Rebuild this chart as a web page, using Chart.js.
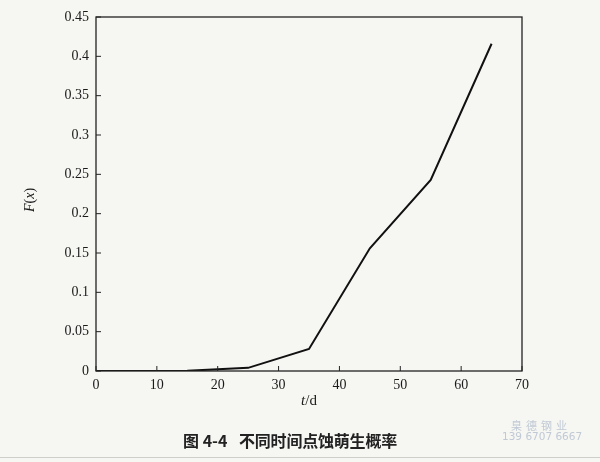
<!DOCTYPE html>
<html>
<head>
<meta charset="utf-8">
<script src="https://cdn.jsdelivr.net/npm/chart.js@4.4.0/dist/chart.umd.min.js"></script>
<style>
  html, body { margin:0; padding:0; background:#f6f6f3; }
  #wrap { position:relative; width:600px; height:462px; overflow:hidden; }
  canvas { position:absolute; left:0; top:0; }
  .cap { position:absolute; top:430px; font-family:"Noto Sans CJK SC", sans-serif; font-weight:bold; font-size:16px; line-height:20px; color:#222; white-space:nowrap; }
  #cap1 { left:183px; }
  #cap2 { left:239px; letter-spacing:-0.2px; }
  #wm1 { position:absolute; left:511px; top:417px; font-family:"Noto Sans CJK SC", sans-serif; font-size:11px; color:#c0c9d4; letter-spacing:4px; }
  #wm2 { position:absolute; left:502px; top:430px; font-family:"DejaVu Sans", sans-serif; font-size:10.5px; color:#c0c9d4; white-space:nowrap; }
  #rule { position:absolute; left:0; top:457px; width:600px; height:1px; background:#cfcfca; }
</style>
</head>
<body>
<div id="wrap">
  <canvas id="c" width="600" height="462"></canvas>
  <div class="cap" id="cap1">图 4-4</div>
  <div class="cap" id="cap2">不同时间点蚀萌生概率</div>
  <div id="wm1">臬德钢业</div>
  <div id="wm2">139 6707 6667</div>
  <div id="rule"></div>
</div>
<script>
const days = [0, 5, 15, 25, 35, 45, 55, 65];
const probability = [0, 0, 0.0003, 0.004, 0.028, 0.156, 0.243, 0.416];
const xTickLabels = ["0", "10", "20", "30", "40", "50", "60", "70"];
const yTickLabels = ["0", "0.05", "0.1", "0.15", "0.2", "0.25", "0.3", "0.35", "0.4", "0.45"];
// axis titles as [text, italic] runs
const xTitleRuns = [["t", true], ["/d", false]];
const yTitleRuns = [["F", true], ["(", false], ["x", true], [")", false]];

const serif = "'Liberation Serif', 'DejaVu Serif', serif";
const tickFont = { family: serif, size: 14 };

function drawRuns(ctx, runs, size) {
  const widths = runs.map(([t, it]) => { ctx.font = (it ? 'italic ' : '') + size + 'px ' + serif; return ctx.measureText(t).width; });
  const total = widths.reduce((a, b) => a + b, 0);
  let x = -total / 2;
  runs.forEach(([t, it], i) => {
    ctx.font = (it ? 'italic ' : '') + size + 'px ' + serif;
    ctx.fillText(t, x, 0);
    x += widths[i];
  });
}

const framePlugin = {
  id: 'frame',
  afterDatasetsDraw(chart) {
    const { ctx, chartArea: a, scales } = chart;
    ctx.save();
    ctx.strokeStyle = '#222';
    ctx.lineWidth = 1.3;
    ctx.strokeRect(a.left, a.top, a.right - a.left, a.bottom - a.top);
    ctx.lineWidth = 1;
    scales.x.ticks.forEach(t => {
      const px = scales.x.getPixelForValue(t.value);
      ctx.beginPath(); ctx.moveTo(px, a.bottom); ctx.lineTo(px, a.bottom - 5); ctx.stroke();
    });
    scales.y.ticks.forEach(t => {
      const py = scales.y.getPixelForValue(t.value);
      ctx.beginPath(); ctx.moveTo(a.left, py); ctx.lineTo(a.left + 5, py); ctx.stroke();
    });
    // axis titles
    ctx.fillStyle = '#1a1a1a';
    ctx.textAlign = 'left';
    ctx.textBaseline = 'middle';
    ctx.save();
    ctx.translate((a.left + a.right) / 2, a.bottom + 30);
    drawRuns(ctx, xTitleRuns, 15);
    ctx.restore();
    ctx.save();
    ctx.translate(30, (a.top + a.bottom) / 2 + 6);
    ctx.rotate(-Math.PI / 2);
    drawRuns(ctx, yTitleRuns, 14);
    ctx.restore();
    ctx.restore();
  }
};

new Chart(document.getElementById('c'), {
  type: 'line',
  data: {
    datasets: [{
      data: days.map((d, i) => ({ x: d, y: probability[i] })),
      borderColor: '#111',
      borderWidth: 2,
      pointRadius: 0,
      tension: 0,
      fill: false
    }]
  },
  options: {
    responsive: false,
    animation: false,
    devicePixelRatio: 1,
    layout: { padding: { left: 0, top: 17, right: 78, bottom: 0 } },
    plugins: { legend: { display: false }, tooltip: { enabled: false } },
    scales: {
      x: {
        type: 'linear', min: 0, max: 70,
        afterBuildTicks(s) { s.ticks = xTickLabels.map(v => ({ value: Number(v) })); },
        afterFit(s) { s.height = 91; },
        grid: { drawOnChartArea: false, drawTicks: false, display: false },
        border: { display: false },
        ticks: {
          color: '#1a1a1a', font: tickFont, padding: 6,
          callback: (v, i) => xTickLabels[i]
        }
      },
      y: {
        type: 'linear', min: 0, max: 0.45,
        afterBuildTicks(s) { s.ticks = yTickLabels.map(v => ({ value: Number(v) })); },
        afterFit(s) { s.width = 96; },
        grid: { drawOnChartArea: false, drawTicks: false, display: false },
        border: { display: false },
        ticks: {
          color: '#1a1a1a', font: tickFont, padding: 7,
          callback: (v, i) => yTickLabels[i]
        }
      }
    }
  },
  plugins: [framePlugin]
});
</script>
</body>
</html>
